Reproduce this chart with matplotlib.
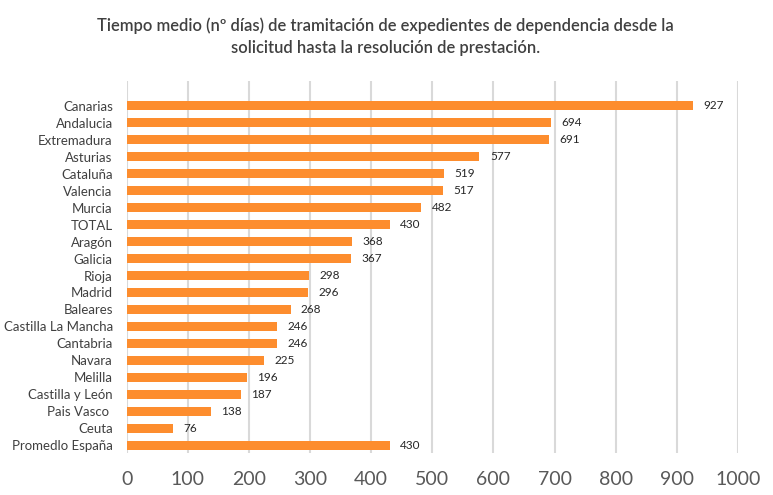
import matplotlib
matplotlib.use("Agg")
import matplotlib.pyplot as plt

categories = ["Canarias", "Andalucia", "Extremadura", "Asturias", "Cataluña", "Valencia",
              "Murcia", "TOTAL", "Aragón", "Galicia", "Rioja", "Madrid", "Baleares",
              "Castilla La Mancha", "Cantabria", "Navara", "Melilla", "Castilla y León",
              "Pais Vasco ", "Ceuta", "Promedlo España"]
values = [927, 694, 691, 577, 519, 517, 482, 430, 368, 367, 298, 296, 268, 246, 246,
          225, 196, 187, 138, 76, 430]
xticks = [0, 100, 200, 300, 400, 500, 600, 700, 800, 900, 1000]
title = ("Tiempo medio (nº días) de tramitación de expedientes de dependencia desde la\n"
         "solicitud hasta la resolución de prestación.")

plt.rcParams['font.family'] = ['Lato', 'DejaVu Sans']
txt = '#595959'

fig = plt.figure(figsize=(7.73, 4.95), dpi=100)
ax = fig.add_axes([0.1639, 0.0855, 0.7908, 0.7509])
y = list(range(len(categories)))
ax.barh(y, values, height=0.53, color='#FD8D2E', zorder=3)
for yi, v in zip(y, values):
    ax.annotate(str(v), (v, yi), xytext=(7.5, 0), textcoords='offset points',
                ha='left', va='center', fontsize=8.5, color='#262626')

ax.set_xlim(0, 1000)
ax.set_ylim(20.45, -1.475)
ax.set_xticks(xticks)
ax.set_xticklabels([str(t) for t in xticks])
ax.set_yticks(y)
ax.set_yticklabels(categories)
ax.tick_params(axis='x', length=0, labelsize=14, pad=13, labelcolor=txt)
ax.tick_params(axis='y', length=0, labelsize=9.5, pad=10, labelcolor='#404040')
ax.grid(axis='x', color='#D9D9D9', linewidth=1.5, zorder=0)
for s in ax.spines.values():
    s.set_visible(False)

fig.text(0.4987, 1 - 36.7 / 495, title, ha='center', va='center', fontsize=11.9,
         fontweight='semibold', color='#404040', linespacing=1.4)

fig.savefig("out.png", dpi=100, facecolor='white')
